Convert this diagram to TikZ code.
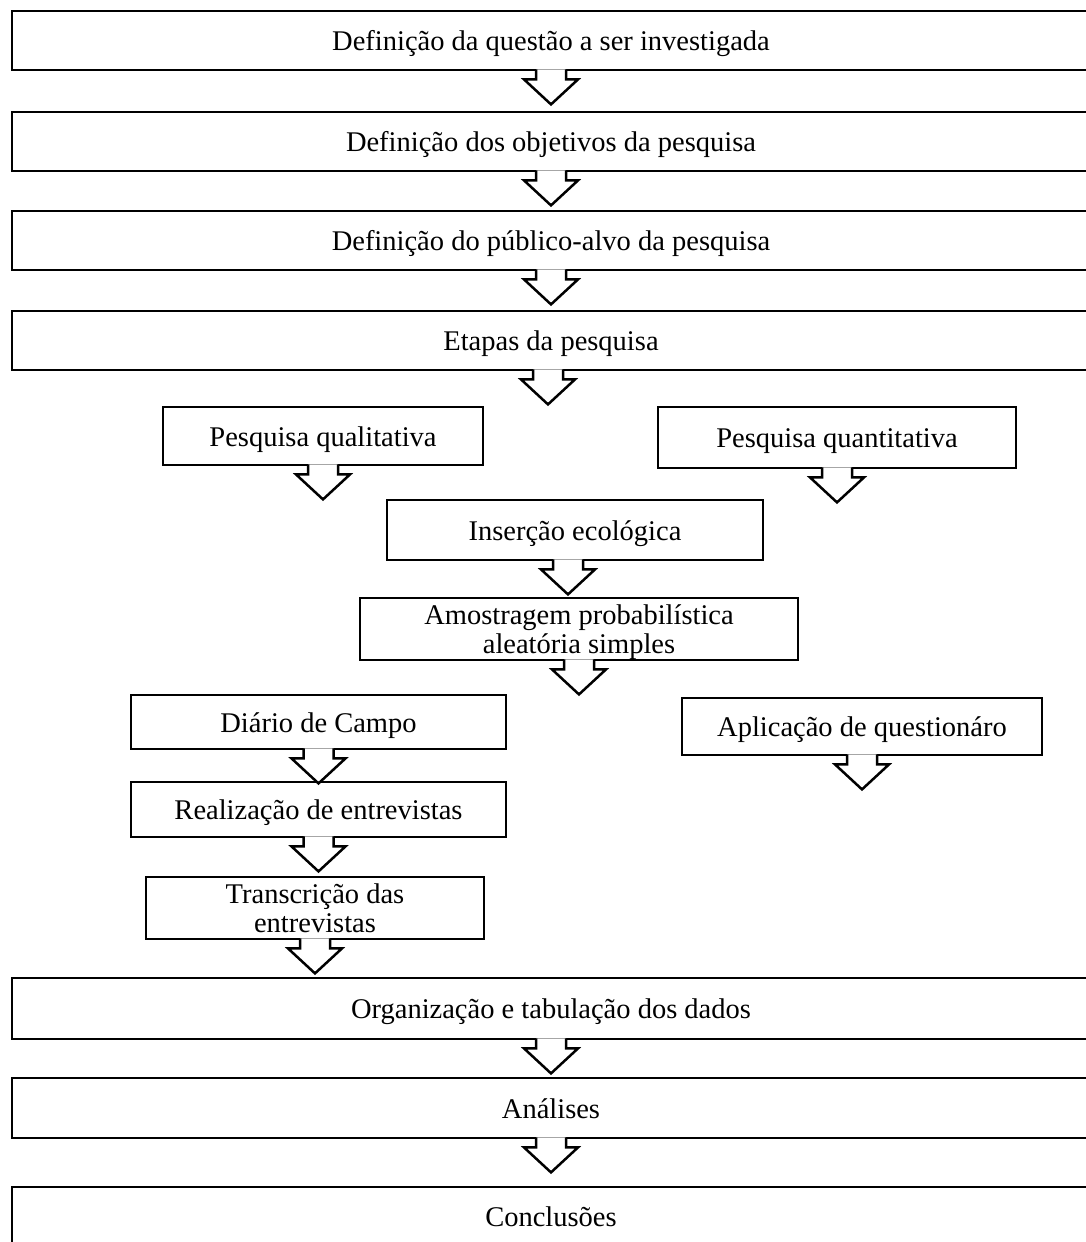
\documentclass[tikz,border=0pt]{standalone}
\usepackage{fontspec}
\setmainfont{Liberation Serif}
\usetikzlibrary{calc}

% hollow block arrow hanging below a box
\newcommand{\blockdown}[2][0]{%
  \draw[downarrow] ($(#2.south)+(#1-15,-2)$) -- ++(0,10) -- ++(-12,0)
    -- ++(27,25) -- ++(27,-25) -- ++(-12,0) -- ++(0,-10);}

\begin{document}
\begin{tikzpicture}[x=1pt,y=-1pt,
    stage/.style={draw, line width=2.8pt, fill=white, inner sep=0pt, align=center,
      text depth=0pt, font=\fontsize{28.5}{29}\selectfont},
    oneline/.style={stage, text height=20pt},
    widestage/.style={oneline, minimum width=1078pt, minimum height=59pt},
    downarrow/.style={draw, line width=2.5pt, fill=white, line join=miter}]

    \useasboundingbox (0,0) rectangle (1085,1242);

    \node[widestage] (def_questao)   at (551,40.5)  {Definição da questão a ser investigada};
    \node[widestage] (def_objetivos) at (551,141.5) {Definição dos objetivos da pesquisa};
    \node[widestage] (def_publico)   at (551,240.5) {Definição do público-alvo da pesquisa};
    \node[widestage] (etapas)        at (551,340.5) {Etapas da pesquisa};

    \node[oneline, minimum width=320pt, minimum height=58pt] (qualitativa)  at (323,436)   {Pesquisa qualitativa};
    \node[oneline, minimum width=358pt, minimum height=61pt] (quantitativa) at (837,437.5) {Pesquisa quantitativa};
    \node[oneline, minimum width=376pt, minimum height=60pt] (insercao)     at (575,530)   {Inserção ecológica};
    \node[stage, minimum width=438pt, minimum height=62pt]   (amostragem)   at (579,629)   {Amostragem probabilística\\aleatória simples};
    \node[oneline, minimum width=375pt, minimum height=54pt] (diario)       at (318.5,722) {Diário de Campo};
    \node[oneline, minimum width=360pt, minimum height=57pt] (questionario) at (862,726.5) {Aplicação de questionáro};
    \node[oneline, minimum width=375pt, minimum height=55pt] (entrevistas)  at (318.5,809.5) {Realização de entrevistas};
    \node[stage, minimum width=338pt, minimum height=62pt]   (transcricao)  at (315,908)   {Transcrição das\\entrevistas};

    \node[widestage, minimum height=61pt] (organizacao) at (551,1008.5) {Organização e tabulação dos dados};
    \node[widestage, minimum height=60pt] (analises)    at (551,1108)   {Análises};
    \node[widestage] (conclusoes)  at (551,1216.5) {Conclusões};

    \blockdown{def_questao}
    \blockdown{def_objetivos}
    \blockdown{def_publico}
    \blockdown[-3]{etapas}
    \blockdown{qualitativa}
    \blockdown{quantitativa}
    \blockdown[-7]{insercao}
    \blockdown{amostragem}
    \blockdown{diario}
    \blockdown{questionario}
    \blockdown{entrevistas}
    \blockdown{transcricao}
    \blockdown{organizacao}
    \blockdown{analises}

  \end{tikzpicture}
\end{document}
